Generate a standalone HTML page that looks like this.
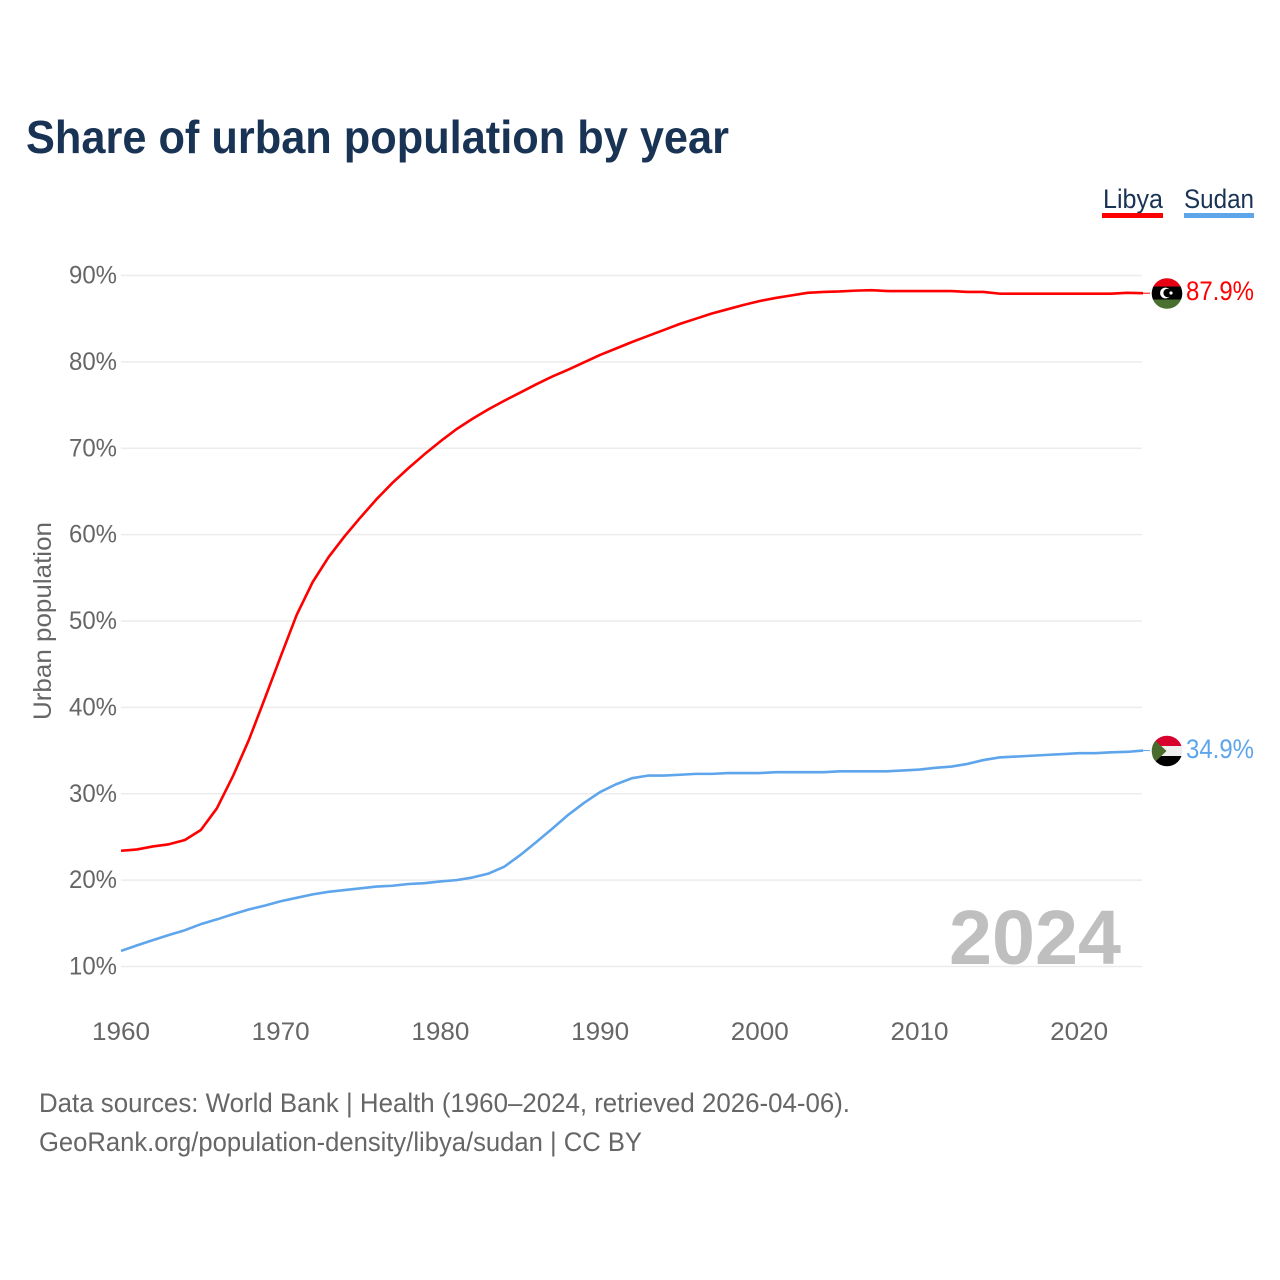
<!DOCTYPE html>
<html lang="en">
<head>
<meta charset="utf-8">
<title>Share of urban population by year</title>
<style>
html,body{margin:0;padding:0;background:#fff;}
svg{display:block;font-family:"Liberation Sans",sans-serif;}
</style>
</head>
<body>
<svg id="chart" width="1280" height="1280" viewBox="0 0 1280 1280" xmlns="http://www.w3.org/2000/svg">
  <defs>
    <clipPath id="clip-libya"><circle cx="1167" cy="293.5" r="15.3"/></clipPath>
    <clipPath id="clip-sudan"><circle cx="1167" cy="751" r="15.3"/></clipPath>
  </defs>
  <text x="26" y="153" font-size="46" font-weight="700" fill="#193354" textLength="703" lengthAdjust="spacingAndGlyphs">Share of urban population by year</text>

  <text x="1103" y="208" font-size="27" fill="#193354" textLength="60" lengthAdjust="spacingAndGlyphs">Libya</text>
  <rect x="1102" y="213" width="61" height="5" fill="#ff0000"/>
  <text x="1184" y="208" font-size="27" fill="#193354" textLength="70" lengthAdjust="spacingAndGlyphs">Sudan</text>
  <rect x="1184" y="213" width="70" height="5" fill="#5ea5ec"/>

  <g id="grid"></g>
  <g id="y-ticks"></g>
  <g id="x-ticks"></g>
  <text transform="translate(51,621) rotate(-90)" text-anchor="middle" font-size="25" fill="#666666" textLength="198" lengthAdjust="spacingAndGlyphs">Urban population</text>

  <text x="949" y="964" font-size="77" font-weight="700" fill="#bfbfbf" textLength="172" lengthAdjust="spacingAndGlyphs">2024</text>

  <g id="series"></g>

  <g clip-path="url(#clip-libya)">
    <rect x="1151" y="278" width="32" height="9" fill="#e70013"/>
    <rect x="1151" y="286.5" width="32" height="13" fill="#000000"/>
    <rect x="1151" y="299.5" width="32" height="10" fill="#4a7030"/>
    <circle cx="1165.5" cy="293" r="5.4" fill="#ffffff"/>
    <circle cx="1167.6" cy="293" r="4.2" fill="#000000"/>
    <circle cx="1171" cy="293" r="1.6" fill="#ffffff"/>
  </g>
  <g clip-path="url(#clip-sudan)">
    <rect x="1151" y="735" width="32" height="11" fill="#d8002c"/>
    <rect x="1151" y="746" width="32" height="10" fill="#eeeeee"/>
    <rect x="1151" y="756" width="32" height="11" fill="#000000"/>
    <polygon points="1150,735 1156,741 1166.5,751 1156,761 1150,767" fill="#4a6b2c"/>
  </g>

  <text id="label-libya" x="1186" y="300" font-size="27" fill="#ff0000" textLength="68" lengthAdjust="spacingAndGlyphs">87.9%</text>
  <text id="label-sudan" x="1186" y="758" font-size="27" fill="#5ea5ec" textLength="68" lengthAdjust="spacingAndGlyphs">34.9%</text>

  <text x="39" y="1112" font-size="27" fill="#666666" textLength="811" lengthAdjust="spacingAndGlyphs">Data sources: World Bank | Health (1960–2024, retrieved 2026-04-06).</text>
  <text x="39" y="1151" font-size="27" fill="#666666" textLength="603" lengthAdjust="spacingAndGlyphs">GeoRank.org/population-density/libya/sudan | CC BY</text>
</svg>
<script>
const years = [1960,1961,1962,1963,1964,1965,1966,1967,1968,1969,1970,1971,1972,1973,1974,1975,1976,1977,1978,1979,1980,1981,1982,1983,1984,1985,1986,1987,1988,1989,1990,1991,1992,1993,1994,1995,1996,1997,1998,1999,2000,2001,2002,2003,2004,2005,2006,2007,2008,2009,2010,2011,2012,2013,2014,2015,2016,2017,2018,2019,2020,2021,2022,2023,2024];
const libyaValues = [23.4,23.55,23.9,24.15,24.65,25.8,28.3,32.0,36.2,41.0,45.9,50.7,54.5,57.4,59.8,62.0,64.1,66.0,67.7,69.3,70.8,72.2,73.4,74.5,75.5,76.45,77.4,78.3,79.1,79.95,80.8,81.55,82.3,83.0,83.7,84.4,85.0,85.6,86.1,86.6,87.05,87.4,87.7,88.0,88.1,88.15,88.25,88.3,88.2,88.2,88.2,88.2,88.2,88.1,88.1,87.9,87.9,87.9,87.9,87.9,87.9,87.9,87.9,88.0,87.95];
const sudanValues = [11.8,12.45,13.05,13.65,14.2,14.9,15.45,16.05,16.6,17.05,17.55,17.95,18.35,18.65,18.85,19.05,19.25,19.35,19.55,19.65,19.85,20.0,20.3,20.75,21.55,22.9,24.4,25.95,27.55,28.95,30.2,31.1,31.8,32.1,32.1,32.2,32.3,32.3,32.4,32.4,32.4,32.5,32.5,32.5,32.5,32.6,32.6,32.6,32.6,32.7,32.8,33.0,33.15,33.45,33.9,34.2,34.3,34.4,34.5,34.6,34.7,34.7,34.8,34.85,35.0];
const yTickValues = [10,20,30,40,50,60,70,80,90];
const yTickLabels = ["10%","20%","30%","40%","50%","60%","70%","80%","90%"];
const xTickValues = [1960,1970,1980,1990,2000,2010,2020];
const xTickLabels = ["1960","1970","1980","1990","2000","2010","2020"];

const NS = 'http://www.w3.org/2000/svg';
function xScale(year){ return 121 + (year - 1960) * 15.97; }
function yScale(value){ return 966.5 - (value - 10) * 8.6375; }

const gridGroup = document.getElementById('grid');
const yTickGroup = document.getElementById('y-ticks');
const xTickGroup = document.getElementById('x-ticks');
const seriesGroup = document.getElementById('series');

yTickValues.forEach(function(v, i){
  const line = document.createElementNS(NS, 'line');
  
  
  line.setAttribute('x1', 121);
  line.setAttribute('x2', 1142);
  line.setAttribute('y1', yScale(v));
  line.setAttribute('y2', yScale(v));
  line.setAttribute('stroke', '#ececec');
  line.setAttribute('stroke-width', '1.4');
  gridGroup.appendChild(line);

  const label = document.createElementNS(NS, 'text');
  
  
  label.setAttribute('x', 117);
  label.setAttribute('y', yScale(v) + 8);
  label.setAttribute('text-anchor', 'end');
  label.setAttribute('font-size', '25');
  label.setAttribute('fill', '#666666');
  label.setAttribute('textLength', '48');
  label.setAttribute('lengthAdjust', 'spacingAndGlyphs');
  label.textContent = yTickLabels[i];
  yTickGroup.appendChild(label);
});

xTickValues.forEach(function(v, i){
  const label = document.createElementNS(NS, 'text');
  
  
  label.setAttribute('x', xScale(v));
  label.setAttribute('y', 1040);
  label.setAttribute('text-anchor', 'middle');
  label.setAttribute('font-size', '25');
  label.setAttribute('fill', '#666666');
  label.setAttribute('textLength', '58');
  label.setAttribute('lengthAdjust', 'spacingAndGlyphs');
  label.textContent = xTickLabels[i];
  xTickGroup.appendChild(label);
});

function linePoints(values){
  return values.map(function(v, i){
    return xScale(years[i]).toFixed(2) + ',' + yScale(v).toFixed(2);
  }).join(' ');
}

const libyaLine = document.createElementNS(NS, 'polyline');


libyaLine.setAttribute('points', linePoints(libyaValues));
libyaLine.setAttribute('fill', 'none');
libyaLine.setAttribute('stroke', '#ff0000');
libyaLine.setAttribute('stroke-width', '2.6');
libyaLine.setAttribute('stroke-linejoin', 'round');
seriesGroup.appendChild(libyaLine);

const sudanLine = document.createElementNS(NS, 'polyline');


sudanLine.setAttribute('points', linePoints(sudanValues));
sudanLine.setAttribute('fill', 'none');
sudanLine.setAttribute('stroke', '#5ea5ec');
sudanLine.setAttribute('stroke-width', '2.6');
sudanLine.setAttribute('stroke-linejoin', 'round');
seriesGroup.appendChild(sudanLine);

const libyaConnector = document.createElementNS(NS, 'line');


libyaConnector.setAttribute('x1', xScale(2024));
libyaConnector.setAttribute('x2', 1150);
libyaConnector.setAttribute('y1', yScale(libyaValues[libyaValues.length - 1]));
libyaConnector.setAttribute('y2', yScale(libyaValues[libyaValues.length - 1]));
libyaConnector.setAttribute('stroke', '#ff0000');
libyaConnector.setAttribute('stroke-width', '1');
seriesGroup.appendChild(libyaConnector);

const sudanConnector = document.createElementNS(NS, 'line');


sudanConnector.setAttribute('x1', xScale(2024));
sudanConnector.setAttribute('x2', 1150);
sudanConnector.setAttribute('y1', yScale(sudanValues[sudanValues.length - 1]));
sudanConnector.setAttribute('y2', yScale(sudanValues[sudanValues.length - 1]));
sudanConnector.setAttribute('stroke', '#5ea5ec');
sudanConnector.setAttribute('stroke-width', '1');
seriesGroup.appendChild(sudanConnector);
</script>
</body>
</html>
